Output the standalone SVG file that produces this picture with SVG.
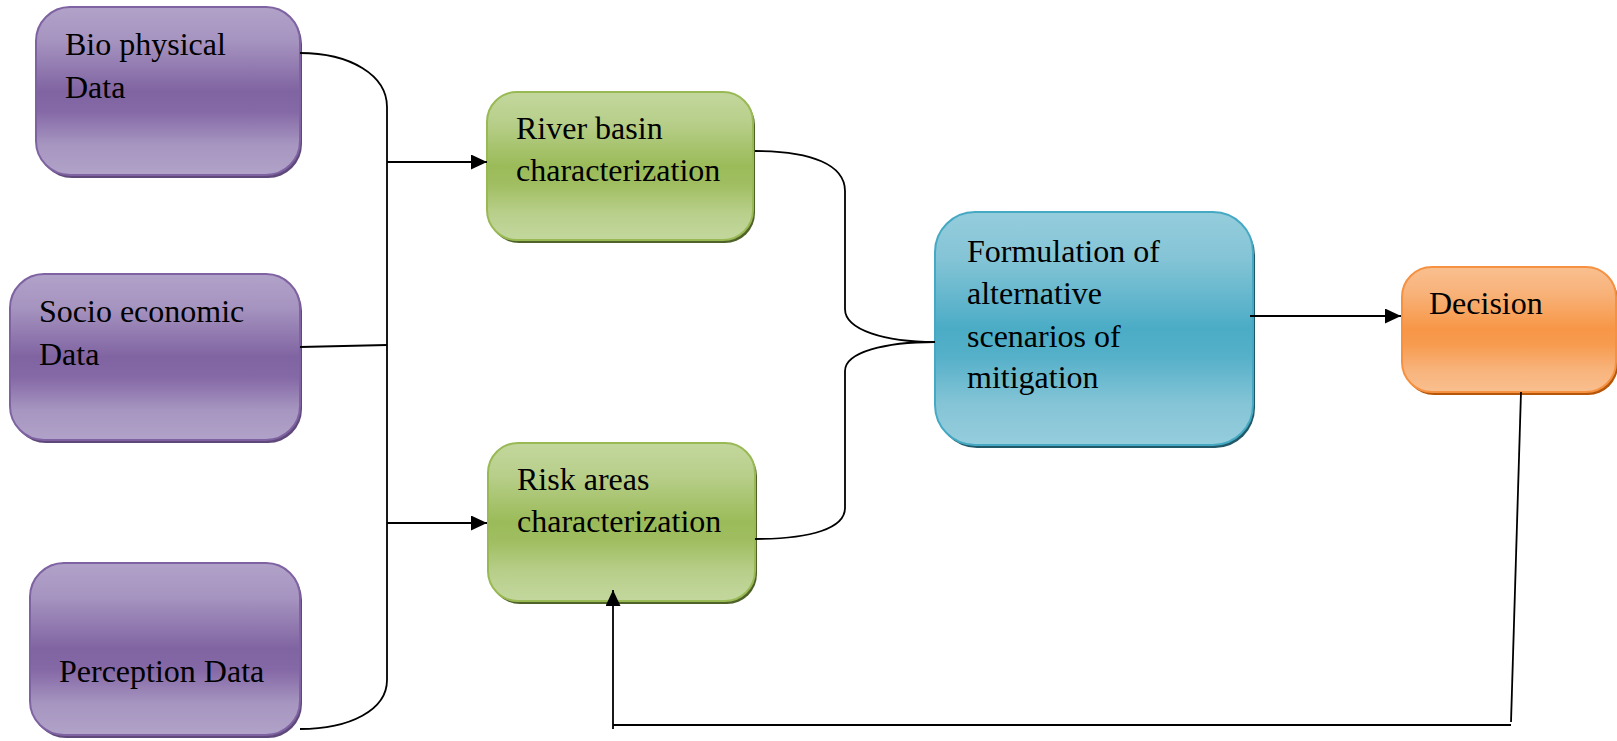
<svg xmlns="http://www.w3.org/2000/svg" width="1617" height="741" viewBox="0 0 1617 741">
<style>
  .lbl { font-family: "Liberation Serif", "Times New Roman", serif; font-size: 32px; fill: #000; }
  .conn { fill: none; stroke: #000; stroke-width: 1.8; }
</style>
<defs>
  <linearGradient id="gPurple" x1="0" y1="0" x2="0" y2="1">
    <stop offset="0" stop-color="#b1a2c9"/>
    <stop offset="0.2" stop-color="#a694c0"/>
    <stop offset="0.5" stop-color="#8064a2"/>
    <stop offset="0.62" stop-color="#8568a6"/>
    <stop offset="0.82" stop-color="#a696c0"/>
    <stop offset="1" stop-color="#b1a2c9"/>
  </linearGradient>
  <linearGradient id="gGreen" x1="0" y1="0" x2="0" y2="1">
    <stop offset="0" stop-color="#c3d79d"/>
    <stop offset="0.2" stop-color="#b8cf8b"/>
    <stop offset="0.5" stop-color="#9bbb59"/>
    <stop offset="0.62" stop-color="#a0be61"/>
    <stop offset="0.82" stop-color="#b8cf8b"/>
    <stop offset="1" stop-color="#c3d79d"/>
  </linearGradient>
  <linearGradient id="gBlue" x1="0" y1="0" x2="0" y2="1">
    <stop offset="0" stop-color="#95cddc"/>
    <stop offset="0.2" stop-color="#84c4d6"/>
    <stop offset="0.5" stop-color="#4bacc6"/>
    <stop offset="0.62" stop-color="#55b0c9"/>
    <stop offset="0.82" stop-color="#84c4d6"/>
    <stop offset="1" stop-color="#95cddc"/>
  </linearGradient>
  <linearGradient id="gOrange" x1="0" y1="0" x2="0" y2="1">
    <stop offset="0" stop-color="#f9bf8f"/>
    <stop offset="0.2" stop-color="#f8b37b"/>
    <stop offset="0.5" stop-color="#f79646"/>
    <stop offset="0.62" stop-color="#f79b4f"/>
    <stop offset="0.82" stop-color="#f8b37b"/>
    <stop offset="1" stop-color="#f9bf8f"/>
  </linearGradient>
  <marker id="arr" markerUnits="userSpaceOnUse" markerWidth="18" markerHeight="16" refX="16" refY="7.5" orient="auto">
    <path d="M0,0 L16,7.5 L0,15 z" fill="#000"/>
  </marker>
</defs>
<rect width="1617" height="741" fill="#fff"/>

<g id="bio">
  <rect x="38" y="10" width="264" height="168" rx="34" fill="#5f497a"/>
  <rect x="36" y="7" width="264" height="168" rx="34" fill="url(#gPurple)" stroke="#7e62a1" stroke-width="2"/>
  <text class="lbl" x="65" y="55">Bio physical</text>
  <text class="lbl" x="65" y="98">Data</text>
</g>
<g id="socio">
  <rect x="12" y="277" width="290" height="166" rx="34" fill="#5f497a"/>
  <rect x="10" y="274" width="290" height="166" rx="34" fill="url(#gPurple)" stroke="#7e62a1" stroke-width="2"/>
  <text class="lbl" x="39" y="322">Socio economic</text>
  <text class="lbl" x="39" y="365">Data</text>
</g>
<g id="perception">
  <rect x="32" y="566" width="270" height="172" rx="34" fill="#5f497a"/>
  <rect x="30" y="563" width="270" height="172" rx="34" fill="url(#gPurple)" stroke="#7e62a1" stroke-width="2"/>
  <text class="lbl" x="59" y="682">Perception Data</text>
</g>
<g id="river">
  <rect x="489" y="95" width="266" height="148" rx="30" fill="#4f6228"/>
  <rect x="487" y="92" width="266" height="148" rx="30" fill="url(#gGreen)" stroke="#98b954" stroke-width="2"/>
  <text class="lbl" x="516" y="139">River basin</text>
  <text class="lbl" x="516" y="181">characterization</text>
</g>
<g id="risk">
  <rect x="490" y="446" width="267" height="158" rx="30" fill="#4f6228"/>
  <rect x="488" y="443" width="267" height="158" rx="30" fill="url(#gGreen)" stroke="#98b954" stroke-width="2"/>
  <text class="lbl" x="517" y="490">Risk areas</text>
  <text class="lbl" x="517" y="532">characterization</text>
</g>
<g id="formulation">
  <rect x="937" y="215" width="318" height="233" rx="40" fill="#215968"/>
  <rect x="935" y="212" width="318" height="233" rx="40" fill="url(#gBlue)" stroke="#46a9c4" stroke-width="2"/>
  <text class="lbl" x="967" y="262">Formulation of</text>
  <text class="lbl" x="967" y="304">alternative</text>
  <text class="lbl" x="967" y="347">scenarios of</text>
  <text class="lbl" x="967" y="388">mitigation</text>
</g>
<g id="decision">
  <rect x="1404" y="270" width="214" height="125" rx="30" fill="#b65708"/>
  <rect x="1402" y="267" width="214" height="125" rx="30" fill="url(#gOrange)" stroke="#f59140" stroke-width="2"/>
  <text class="lbl" x="1429" y="314">Decision</text>
</g>

<g id="connectors">
  <path class="conn" d="M300,53 C350,53 387,75 387,107 L387,680 C387,710 350,729 300,729"/>
  <path class="conn" d="M300,347 L387,345"/>
  <path class="conn" d="M387,162 L487,162" marker-end="url(#arr)"/>
  <path class="conn" d="M387,523 L487,523" marker-end="url(#arr)"/>
  <path class="conn" d="M755,151 C812,151 845,165 845,191 L845,309 C845,330 885,342 935,342"/>
  <path class="conn" d="M755,539 C812,539 845,528 845,508 L845,371 C845,352 885,342 935,342"/>
  <path class="conn" d="M1250,316 L1401,316" marker-end="url(#arr)"/>
  <path class="conn" d="M1521,392 L1511,722"/>
  <path class="conn" d="M1511,725 L613,725"/>
  <path class="conn" d="M613,729 L613,590" marker-end="url(#arr)"/>
</g>
</svg>
